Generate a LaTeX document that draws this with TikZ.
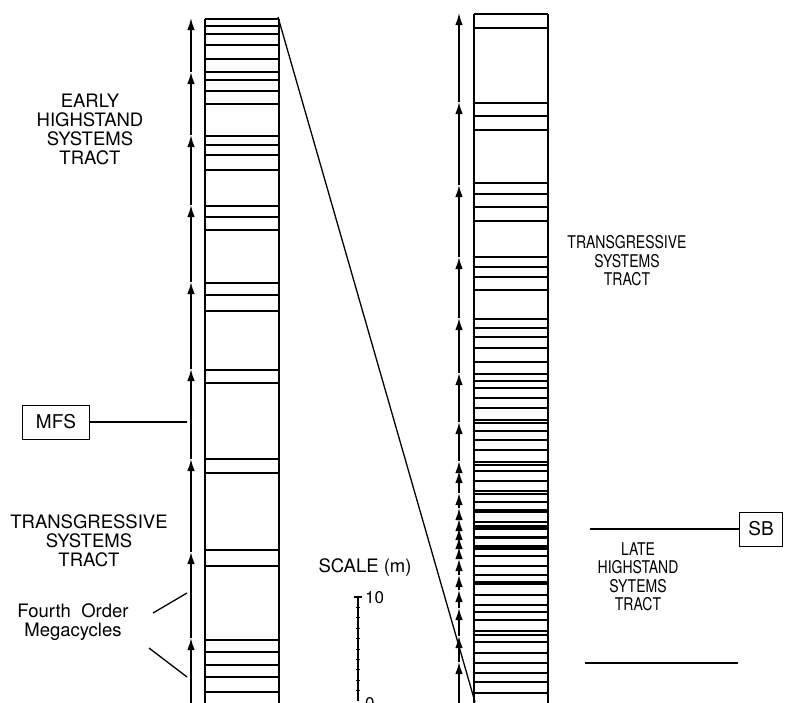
\documentclass[tikz,border=0pt]{standalone}
\usepackage{fontspec}
\setmainfont{TeX Gyre Heros}
\newfontfamily\condfont[FakeStretch=0.8]{TeX Gyre Heros}
\usetikzlibrary{arrows.meta}
\tikzset{
  lab/.style={align=center,font=\fontsize{18.5}{19}\selectfont,inner sep=0pt},
  rlab/.style={align=center,font=\condfont\fontsize{17.5}{18.5}\selectfont,inner sep=0pt},
  boxlab/.style={draw,line width=1pt,font=\fontsize{19}{19}\selectfont,inner sep=0pt},
  colside/.style={line width=1.3pt},
  bed/.style={line width=1.5pt},
  cyc/.style={line width=1.5pt,-{Latex[length=12pt,width=7.5pt]}},
  thinline/.style={line width=1.3pt}
}
\begin{document}
\begin{tikzpicture}[x=1pt,y=-1pt]
\useasboundingbox (0,0) rectangle (789,702);
% ---------- left column ----------
\draw[colside] (205,19) -- (205,705);
\draw[colside] (279,19) -- (279,705);
\foreach \y in {19,26,34,45,59,72,80,91,104,136,145,155,170,206,217,230,283,295,311,370,383,459,473,550,566,640,652,665,677,692}
  \draw[bed] (205,\y) -- (279,\y);
% left cycle arrows
\foreach \a/\b in {705/638,638/552,552/459,459/369,369/282,282/205,205/135,135/72,72/18}
  \draw[cyc] (191,\a) -- (191,\b);
% ---------- right column ----------
\draw[colside] (474,14) -- (474,705);
\draw[colside] (548,14) -- (548,705);
\foreach \y in {14,28,103,116,130,183,194,207,221,257,267,277,290,319,328,337,348,362,374,381,388,398,408,420,423,431,440,450,462,465,471,481,491,494,502,522,556,566,575,595,605,612,620,631,635,642,653,663,673,682,693}
  \draw[bed] (474,\y) -- (548,\y);
\foreach \y/\w in {511/4pt,527/5pt,537/3pt,547/5pt,583/3.5pt}
  \draw[line width=\w] (474,\y) -- (548,\y);
% right cycle arrows
\foreach \a/\b in {705/662,662/636,636/608,608/590,590/575,575/559,559/547,547/537,537/528,528/519,519/508,508/493,493/471,471/461,461/422,422/373,373/318,318/257,257/185,185/102,102/13}
  \draw[cyc] (459,\a) -- (459,\b);
% ---------- correlation line ----------
\coordinate (ltop) at (278,17);
\coordinate (rbot) at (475,702);
\draw[thinline] (ltop) -- (rbot);
% ---------- scale ----------
\coordinate (s0) at (358,701);
\coordinate (s10) at (358,597);
\draw[line width=1.1pt] (s0) -- (s10);
\draw[line width=1.1pt] (354,597) -- (362,597);
\foreach \i in {1,...,9}
  \draw[line width=1pt] (356,{701-10.4*\i}) -- (360,{701-10.4*\i});
\node[lab,anchor=west,font=\fontsize{17}{17}\selectfont] (ten) at (365,598) {10};
\node[lab,anchor=west,font=\fontsize{17}{17}\selectfont] (zero) at (365,704) {0};
\node[lab] (scale) at (365,568) {SCALE (m)};
% ---------- labels ----------
\node[lab] (ehst) at (90,129) {EARLY\\HIGHSTAND\\SYSTEMS\\TRACT};
\node[boxlab,minimum width=67pt,minimum height=34pt] (mfs) at (56,422) {MFS};
\coordinate (mfsend) at (187,422);
\draw[thinline] (mfs.east) -- (mfsend);
\node[lab] (tstl) at (89,541) {TRANSGRESSIVE\\SYSTEMS\\TRACT};
\node[lab] (fom) at (73,622) {Fourth\ \ Order\\Megacycles};
\coordinate (p1a) at (153,613); \coordinate (p1b) at (187,593);
\coordinate (p2a) at (149,648); \coordinate (p2b) at (187,677);
\draw[thinline] (p1a) -- (p1b);
\draw[thinline] (p2a) -- (p2b);
\node[rlab] (tstr) at (627,261) {TRANSGRESSIVE\\SYSTEMS\\TRACT};
\node[boxlab,minimum width=43pt,minimum height=34pt] (sb) at (761,529) {SB};
\coordinate (sbend) at (590,529);
\draw[thinline] (sb.west) -- (sbend);
\node[rlab] (lhst) at (638,577) {LATE\\HIGHSTAND\\SYTEMS\\TRACT};
\coordinate (la) at (585,663); \coordinate (lb) at (738,663);
\draw[thinline] (la) -- (lb);
\end{tikzpicture}
\end{document}
